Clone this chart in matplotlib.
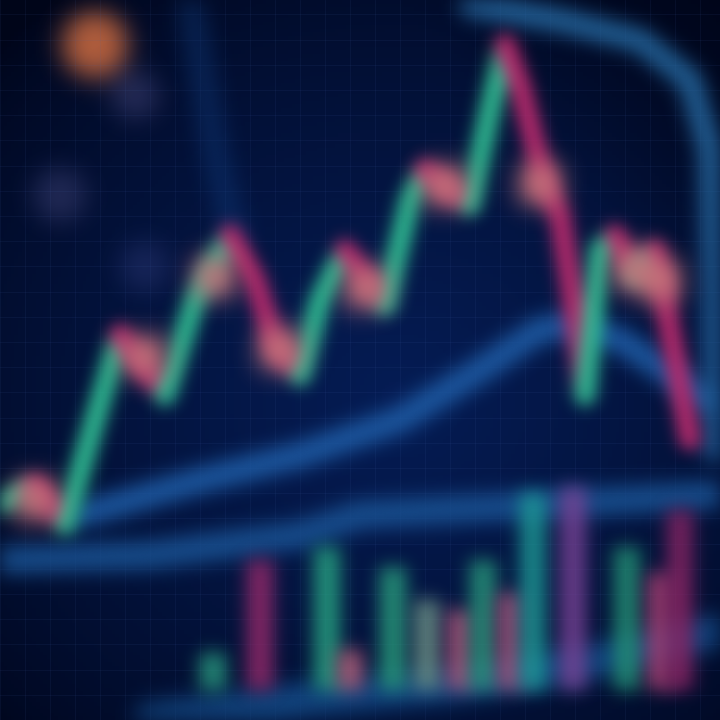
import matplotlib
matplotlib.use("Agg")
import matplotlib.pyplot as plt
from matplotlib.collections import LineCollection
import numpy as np

# price path (day, close)
days = [0, 3.5, 6.5, 9.5, 12, 15, 16.5, 19.5, 23, 25.5, 27.5, 30, 32, 34.5, 37, 38.5,
        41, 42.5, 45, 47, 49, 50.5, 52, 54.5, 56, 57, 58.5, 60, 61.5, 63.5, 65.5, 67, 69]
close = [29.9, 32.6, 27.1, 41.7, 53.5, 47.9, 45.1, 58.3, 67.4, 61.1, 52.1, 47.9, 58.3, 65.3, 60.4, 57.6,
         72.2, 76.4, 73.6, 71.5, 84.7, 93.8, 88.2, 74.3, 70.1, 61.1, 45.1, 65.3, 67.4, 61.8, 65.3, 54.2, 38.9]
# small candle bodies near the turning points
body_days = [3.5, 14.5, 21.5, 28, 36.5, 44.5, 54, 63.5, 66]
body_vals = [30.5, 50.5, 61.5, 51.5, 60.0, 74.2, 74.5, 62.5, 61.0]

# moving averages
ma1_days = [8, 20, 30, 40, 48, 54, 57, 62, 68, 70]
ma1_vals = [28.5, 33.3, 36.8, 41.7, 48.6, 54.2, 54.9, 52.8, 47.2, 44.5]
ma2_days = [0, 15, 30, 36, 54, 72]
ma2_vals = [22.2, 22.9, 25.7, 28.5, 29.9, 31.3]
ma3_days = [47, 56, 64, 69, 71, 71.5, 71.5]
ma3_vals = [99.3, 97.2, 94.4, 88.9, 79.2, 58.3, 37.5]
ma4_days = [15, 30, 45, 60, 72]
ma4_vals = [0.0, 2.8, 4.9, 8.3, 12.5]
ma5_days = [19, 21.5, 23.5]
ma5_vals = [100, 79.2, 66.7]

# volume bars
vol_days = [21.3, 26, 32.7, 35, 39.3, 42.7, 46, 48.3, 51, 53.3, 57.3, 62.7, 66, 68]
vol_vals = [5.1, 18.0, 19.8, 5.5, 17.1, 12.5, 11.1, 18.0, 13.4, 27.3, 28.2, 19.8, 16.2, 25.0]
vol_cols = ["#2a9c80", "#9a2a6c", "#28a884", "#b8607a", "#2aa07e", "#6e9488", "#b0567a",
            "#289a7c", "#a8507a", "#1e9c98", "#7a4496", "#249476", "#a84274", "#8a2464"]
vol_base = 4.2

# bokeh dots
dot_days = [9.5, 13.5, 6.0, 14.5]
dot_vals = [93.8, 86.8, 72.9, 63.0]
dot_cols = ["#b4603e", "#262c58", "#222a56", "#18265a"]
dot_size = [2300, 1200, 1500, 1300]


def blur(sigma):
    r = int(3 * sigma)
    k = np.exp(-0.5 * (np.arange(-r, r + 1) / sigma) ** 2)
    k /= k.sum()

    def filt(im, dpi):
        a = np.pad(im, ((r, r), (r, r), (0, 0))).astype(np.float32)
        a[:, :, :3] *= a[:, :, 3:4]
        for ax_ in (0, 1):
            out = np.zeros_like(a)
            for i, w in enumerate(k):
                out += w * np.roll(a, i - r, axis=ax_)
            a = out
        al = np.clip(a[:, :, 3:4], 1e-4, None)
        a[:, :, :3] = np.clip(a[:, :, :3] / al, 0, 1)
        return a, -r, -r
    return filt


fig = plt.figure(figsize=(7.2, 7.2), dpi=100)
ax = fig.add_axes([0, 0, 1, 1])
ax.set_xlim(0, 72)
ax.set_ylim(0, 100)

# background with vignette
yy, xx = np.mgrid[0:1:200j, 0:1:200j]
c = np.array([0.02, 0.11, 0.33])
edge = np.array([0.0, 0.02, 0.10])
w = np.clip(1.0 - 1.3 * np.hypot(xx - 0.55, (yy - 0.45) * 1.1), 0, 1) ** 0.7
w *= np.clip(1.0 - 1.6 * np.clip((xx - 0.75) + (yy - 0.8), 0, None), 0, 1)
bg = edge + (c - edge) * w[..., None]
ax.imshow(bg, extent=[0, 72, 100, 0], aspect="auto", zorder=0)

ax.set_xticks(np.arange(0, 72, 2.5))
ax.set_yticks(np.arange(0, 100, 3.5))
ax.grid(True, color="#4a6cb8", lw=0.6, alpha=0.1)
ax.tick_params(length=0, labelbottom=False, labelleft=False)
for s in ax.spines.values():
    s.set_visible(False)

# bokeh
sc = ax.scatter(dot_days, dot_vals, s=dot_size, c=dot_cols, lw=0, zorder=1)
sc.set_agg_filter(blur(9))

# moving averages
for d, v, col, lw, sg, al in [(ma1_days, ma1_vals, "#1f5ea8", 18, 10, 0.95),
                              (ma2_days, ma2_vals, "#1a5496", 20, 10, 0.9),
                              (ma3_days, ma3_vals, "#2a74b0", 16, 10, 0.85),
                              (ma4_days, ma4_vals, "#15508e", 24, 11, 0.85),
                              (ma5_days, ma5_vals, "#123f82", 18, 11, 0.45)]:
    ln, = ax.plot(d, v, color=col, lw=lw, alpha=al, solid_capstyle="round", zorder=2)
    ln.set_agg_filter(blur(sg))

# volume
bars = ax.bar(vol_days, vol_vals, bottom=vol_base, width=2.6, color=vol_cols, alpha=0.85, zorder=3)
for b in bars:
    b.set_agg_filter(blur(9))

# price segments
pts = np.column_stack([days, close])
segs = np.stack([pts[:-1], pts[1:]], axis=1)
cols = ["#30bb92" if b > a else "#b82a6c" for a, b in zip(close[:-1], close[1:])]
lc = LineCollection(segs, colors=cols, linewidths=15, capstyle="round", zorder=4)
ax.add_collection(lc)
lc.set_agg_filter(blur(8))
bd = ax.scatter(body_days, body_vals, s=800, marker="s", c="#c8767c", lw=0, zorder=5)
bd.set_agg_filter(blur(9))

fig.savefig("out.png", dpi=100, facecolor="#02082a")
